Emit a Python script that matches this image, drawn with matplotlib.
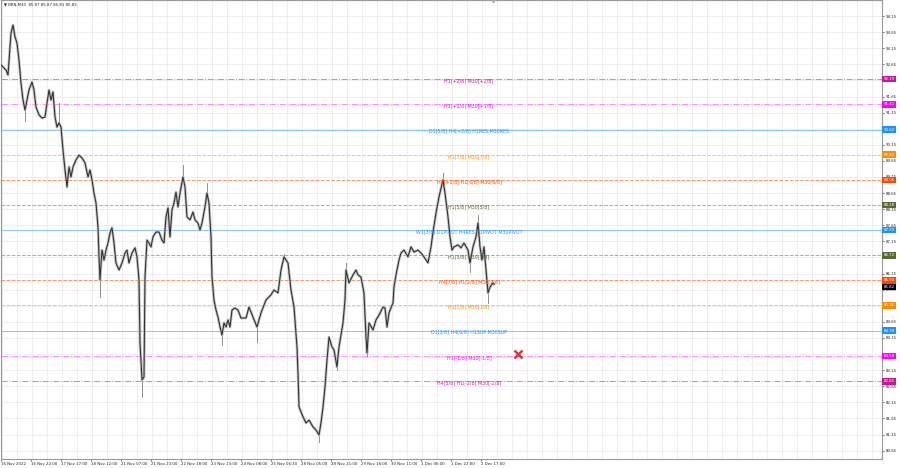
import matplotlib
matplotlib.use("Agg")
import matplotlib.pyplot as plt

# BRN,M30 close path (bar number, price)
bars = [0, 2, 5, 7, 10, 12, 14, 16, 18, 20, 22, 24, 26, 28, 31, 33, 35, 38, 41, 44,
        46, 48, 50, 52, 54, 56, 58, 60, 62, 64, 66, 68, 70, 72, 75, 78, 81, 84, 87, 89,
        91, 93, 95, 97, 98, 99, 101, 103, 105, 107, 109, 111, 113, 115, 118, 121, 124, 126, 128, 131,
        134, 136, 138, 139, 141, 143, 144, 146, 148, 150, 152, 155, 158, 161, 163, 165, 167, 169, 171, 173,
        175, 177, 179, 182, 184, 186, 189, 192, 194, 197, 199, 201, 204, 206, 208, 210, 211, 213, 215, 217,
        219, 221, 223, 225, 227, 229, 231, 234, 237, 240, 245, 248, 252, 256, 260, 265, 270, 273, 277, 280,
        283, 287, 290, 293, 296, 297, 298, 302, 305, 308, 312, 315, 318, 320, 322, 324, 326, 328, 331, 333,
        336, 338, 342, 344, 345, 348, 352, 355, 357, 360, 363, 365, 366, 368, 372, 375, 378, 382, 384, 386,
        388, 392, 393, 395, 398, 400, 403, 407, 410, 413, 417, 420, 423, 427, 430, 432, 435, 438, 442, 444,
        447, 449, 451, 453, 457, 460, 463, 467, 469, 472, 475, 477, 479, 481, 483, 485, 487, 489, 492, 493]
close = [92.63, 92.57, 92.47, 92.32, 93.62, 93.87, 93.50, 93.31, 92.78, 92.07, 91.54, 91.23, 91.54, 91.85, 92.10, 91.85, 91.32, 91.08, 90.98, 91.01,
         91.45, 91.85, 91.54, 91.79, 91.01, 90.70, 90.83, 90.70, 89.99, 89.37, 88.84, 89.46, 89.15, 89.46, 89.68, 89.83, 89.74, 89.59, 89.15, 89.37,
         89.06, 88.65, 88.34, 87.60, 86.67, 85.95, 86.88, 86.57, 86.88, 87.10, 87.41, 87.57, 87.10, 86.48, 86.26, 86.48, 86.79, 86.88, 86.48, 86.79,
         86.95, 86.67, 85.95, 83.99, 82.85, 82.94, 86.04, 87.19, 87.10, 86.98, 87.29, 87.44, 87.44, 87.19, 87.10, 87.91, 88.19, 87.29, 88.13, 88.34,
         88.68, 88.22, 88.65, 89.15, 88.84, 87.91, 87.82, 88.06, 87.82, 87.72, 87.50, 87.72, 88.22, 88.65, 88.34, 87.29, 86.04, 85.33, 85.02, 84.80,
         84.49, 84.24, 84.62, 84.49, 84.71, 84.49, 85.02, 85.08, 85.02, 84.77, 84.77, 85.11, 84.80, 84.49, 84.93, 85.33, 85.49, 85.64, 85.55, 86.26,
         86.67, 86.48, 85.64, 85.11, 83.87, 83.06, 82.01, 81.70, 81.51, 81.60, 81.39, 81.29, 81.14, 81.51, 82.01, 82.63, 83.47, 84.18, 83.87, 83.78,
         83.25, 83.87, 84.62, 85.33, 86.26, 85.86, 86.11, 86.26, 86.11, 86.04, 85.55, 84.18, 83.68, 84.62, 84.40, 84.71, 84.86, 85.11, 85.08, 84.49,
         84.93, 85.24, 85.73, 86.11, 86.57, 86.79, 86.88, 86.67, 86.98, 86.82, 86.88, 86.79, 86.67, 86.48, 86.98, 87.44, 88.03, 88.53, 89.06, 88.65,
         87.91, 87.29, 86.88, 86.98, 87.04, 86.95, 87.10, 86.88, 86.48, 86.98, 87.29, 87.72, 86.98, 86.57, 86.98, 86.26, 85.55, 85.73, 85.86, 85.82]

# long wicks (bar, extreme price)
wick_bars = [24, 58, 99, 141, 182, 206, 221, 256, 283, 318, 336, 345, 366, 442, 469, 477, 487]
wick_ends = [90.90, 91.45, 85.42, 82.32, 89.52, 88.96, 83.93, 84.03, 86.76, 80.92, 83.16, 86.48, 83.59, 89.27, 86.20, 87.97, 85.24]

# Murrey math levels
levels = [92.19, 91.41, 90.62, 89.84, 89.06, 88.28, 87.50, 86.72, 85.94, 85.16, 84.38, 83.59, 82.81]
level_names = ["H1[+2/8] M30[+2/8]", "H1[+1/8] M30[+1/8]", "D1[5/8] H4[+2/8] H1RES M30RES",
               "H1[7/8] M30[7/8]", "H4[+1/8] H1[6/8] M30[6/8]", "H1[5/8] M30[5/8]",
               "W1[3/8] D1PIVOT H4RES H1PIVOT M30PIVOT", "H1[3/8] M30[3/8]",
               "H4[7/8] H1[2/8] M30[2/8]", "H1[1/8] M30[1/8]", "D1[3/8] H4[6/8] H1SUP M30SUP",
               "H1[-1/8] M30[-1/8]", "H4[5/8] H1[-2/8] M30[-2/8]"]
level_colors = ["#C8189A", "#FF00FF", "#1E90FF", "#FF8C00", "#FF4500", "#556B2F", "#1E90FF",
                "#556B2F", "#FF4500", "#FF8C00", "#1E90FF", "#FF00FF", "#C8189A"]
line_colors = ["#E27CC6", "#FF8CFF", "#8CC4FA", "#F9C08A", "#F7966E", "#A9B28F", "#8CC4FA",
               "#A9B28F", "#F7966E", "#F9C08A", "#8CC4FA", "#FF8CFF", "#E27CC6"]
level_styles = ["-.", "-.", "-", "--", "--", "--", "-", "--", "--", "--", "-", "-.", "-."]

last_price = 85.82
target_bar, target_price = 517, 83.65

price_ticks = [94.15 - 0.5 * i for i in range(28)]
time_ticks = [0 + 30 * i for i in range(17)]
time_labels = ["16 Nov 2022", "16 Nov 22:00", "17 Nov 17:00", "18 Nov 12:00", "21 Nov 07:00",
               "21 Nov 23:00", "22 Nov 18:00", "23 Nov 13:00", "24 Nov 08:00", "25 Nov 06:30",
               "28 Nov 05:00", "28 Nov 21:00", "29 Nov 16:00", "30 Nov 11:00", "1 Dec 06:00",
               "1 Dec 22:00", "2 Dec 17:00"]

fig = plt.figure(figsize=(9, 4.68), dpi=100)
ax = fig.add_axes([1 / 900, 1 - 459 / 468, 881 / 900, 459 / 468])
ax.set_xlim(0, 881)
ax.set_ylim(80.392, 94.647)

# grid
for t in range(1, 881, 15):
    ax.axvline(t, color="#ebebeb", lw=0.6, zorder=0)
for p in price_ticks:
    ax.axhline(p, color="#ebebeb", lw=0.6, zorder=0)

# levels
for lv, name, c, lc, ls in zip(levels, level_names, level_colors, line_colors, level_styles):
    ax.axhline(lv, color=lc, ls=ls, lw=0.7, zorder=1)
    ax.text(468, lv - 0.05, name, color=c, fontsize=3.4, ha="center", va="center", zorder=4)

# price path
close_at = dict(zip(bars, close))
for b, e in zip(wick_bars, wick_ends):
    ax.plot([b, b], [close_at[b], e], color="#909090", lw=0.7, zorder=2)
ax.plot(bars, close, color="#c4c4c4", lw=2.0, solid_joinstyle="round", zorder=2)
ax.plot(bars, close, color="#333333", lw=0.8, zorder=3)

ax.plot(target_bar, target_price, marker="x", color="#E8303A", ms=5.5, mew=1.8, zorder=5)
ax.plot(492, 94.647, marker="v", color="#b0b0b0", ms=3.5, clip_on=False, zorder=5)

# axes; tick labels hidden under the price boxes are left blank
ax.yaxis.tick_right()
ax.set_yticks(price_ticks)
ax.set_yticklabels(["" if min(abs(p - lv) for lv in levels) < 0.08 else f"{p:.2f}"
                    for p in price_ticks])
ax.set_xticks(time_ticks)
ax.set_xticklabels(time_labels, ha="left")
ax.tick_params(axis="y", labelsize=2.8, length=1.5, pad=1.2, colors="#777777", labelcolor="#222222")
ax.tick_params(axis="x", labelsize=2.8, length=1.5, pad=0.8, colors="#777777", labelcolor="#222222")
for s in ax.spines.values():
    s.set_color("#999999")
    s.set_linewidth(0.8)

# right-axis price boxes
ytr = ax.get_yaxis_transform()
ax.annotate(f"{last_price:.2f}", xy=(1.0, last_price - 0.08), xycoords=ytr, xytext=(1, 0),
            textcoords="offset points", ha="left", va="center", fontsize=2.8, color="white",
            bbox=dict(boxstyle="square,pad=0.35", fc="black", ec="none"), zorder=6, annotation_clip=False)
for lv, c in zip(levels, level_colors):
    ax.annotate(f"{lv:.2f}", xy=(1.0, lv), xycoords=ytr, xytext=(1, 0),
                textcoords="offset points", ha="left", va="center", fontsize=2.8, color="white",
                bbox=dict(boxstyle="square,pad=0.35", fc=c, ec="none"), zorder=7, annotation_clip=False)

fig.text(0.004, 0.994, "\u25bc BRN,M30  85.87 85.87 85.81 85.82", fontsize=2.8, color="#222222",
         ha="left", va="top")

fig.savefig("out.png", dpi=100, facecolor="white")
